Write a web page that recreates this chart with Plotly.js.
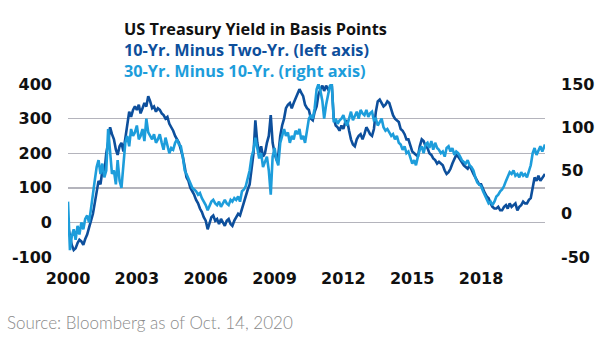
<!DOCTYPE html>
<html>
<head>
<meta charset="utf-8">
<script src="https://cdn.plot.ly/plotly-3.0.1.min.js"></script>
<style>html,body{margin:0;padding:0;background:#fff;}#chart{width:605px;height:341px;}</style>
</head>
<body>
<div id="chart"></div>
<script>
// Monthly dates, Jan 2000 - Oct 14 2020
var dates = [
"2000-01","2000-02","2000-03","2000-04","2000-05","2000-06","2000-07","2000-08","2000-09","2000-10","2000-11","2000-12",
"2001-01","2001-02","2001-03","2001-04","2001-05","2001-06","2001-07","2001-08","2001-09","2001-10","2001-11","2001-12",
"2002-01","2002-02","2002-03","2002-04","2002-05","2002-06","2002-07","2002-08","2002-09","2002-10","2002-11","2002-12",
"2003-01","2003-02","2003-03","2003-04","2003-05","2003-06","2003-07","2003-08","2003-09","2003-10","2003-11","2003-12",
"2004-01","2004-02","2004-03","2004-04","2004-05","2004-06","2004-07","2004-08","2004-09","2004-10","2004-11","2004-12",
"2005-01","2005-02","2005-03","2005-04","2005-05","2005-06","2005-07","2005-08","2005-09","2005-10","2005-11","2005-12",
"2006-01","2006-02","2006-03","2006-04","2006-05","2006-06","2006-07","2006-08","2006-09","2006-10","2006-11","2006-12",
"2007-01","2007-02","2007-03","2007-04","2007-05","2007-06","2007-07","2007-08","2007-09","2007-10","2007-11","2007-12",
"2008-01","2008-02","2008-03","2008-04","2008-05","2008-06","2008-07","2008-08","2008-09","2008-10","2008-11","2008-12",
"2009-01","2009-02","2009-03","2009-04","2009-05","2009-06","2009-07","2009-08","2009-09","2009-10","2009-11","2009-12",
"2010-01","2010-02","2010-03","2010-04","2010-05","2010-06","2010-07","2010-08","2010-09","2010-10","2010-11","2010-12",
"2011-01","2011-02","2011-03","2011-04","2011-05","2011-06","2011-07","2011-08","2011-09","2011-10","2011-11","2011-12",
"2012-01","2012-02","2012-03","2012-04","2012-05","2012-06","2012-07","2012-08","2012-09","2012-10","2012-11","2012-12",
"2013-01","2013-02","2013-03","2013-04","2013-05","2013-06","2013-07","2013-08","2013-09","2013-10","2013-11","2013-12",
"2014-01","2014-02","2014-03","2014-04","2014-05","2014-06","2014-07","2014-08","2014-09","2014-10","2014-11","2014-12",
"2015-01","2015-02","2015-03","2015-04","2015-05","2015-06","2015-07","2015-08","2015-09","2015-10","2015-11","2015-12",
"2016-01","2016-02","2016-03","2016-04","2016-05","2016-06","2016-07","2016-08","2016-09","2016-10","2016-11","2016-12",
"2017-01","2017-02","2017-03","2017-04","2017-05","2017-06","2017-07","2017-08","2017-09","2017-10","2017-11","2017-12",
"2018-01","2018-02","2018-03","2018-04","2018-05","2018-06","2018-07","2018-08","2018-09","2018-10","2018-11","2018-12",
"2019-01","2019-02","2019-03","2019-04","2019-05","2019-06","2019-07","2019-08","2019-09","2019-10","2019-11","2019-12",
"2020-01","2020-02","2020-03","2020-04","2020-05","2020-06","2020-07","2020-08","2020-09","2020-10-14"
];

// 10-Yr minus 2-Yr (left axis, bp)
var tenMinusTwo = [
-10,-45,-65,-80,-75,-60,-50,-55,-65,-48,-35,-15,
5,25,55,90,120,110,150,140,200,230,275,255,
240,210,195,220,230,205,245,290,320,305,325,335,
325,340,315,330,345,335,365,350,330,335,320,330,
325,315,310,300,305,285,275,265,250,240,230,210,
190,160,130,120,100,90,80,65,55,40,30,15,
5,-20,-5,15,20,5,10,-5,10,0,-10,5,
10,-5,-10,5,15,25,20,40,60,75,95,110,
150,200,295,230,200,220,190,200,230,250,310,230,
200,180,195,250,280,300,330,340,345,330,345,360,
370,385,375,365,340,330,325,300,295,320,335,370,
385,395,380,395,385,390,395,300,280,275,265,280,
270,290,295,265,240,225,220,240,250,255,240,255,
275,265,255,250,270,320,350,355,345,335,340,350,
345,325,310,300,295,290,270,265,255,240,240,225,
205,200,195,190,220,240,235,220,215,200,195,185,
180,170,175,170,165,150,140,145,155,170,185,195,
190,180,175,165,160,155,165,150,140,130,120,110,
110,95,85,75,70,55,45,40,40,45,35,35,
45,50,40,55,45,50,55,35,45,50,60,55,
55,65,70,100,130,120,135,120,130,140
];

// 30-Yr minus 10-Yr (right axis, bp)
var thirtyMinusTen = [
14,-42,-26,-18,-30,-14,-24,-10,-18,-6,-2,-10,
6,26,38,54,62,46,58,42,50,98,70,46,
50,34,62,38,30,54,82,90,78,98,90,94,
102,86,90,98,84,110,94,90,86,92,82,86,
92,82,74,88,78,70,76,74,82,86,80,78,
66,50,46,40,36,30,28,26,22,24,18,14,
10,4,8,14,16,12,10,14,8,12,16,12,
10,16,14,18,16,20,14,26,28,32,42,50,
66,74,88,76,64,70,54,60,66,50,22,66,
76,62,56,82,90,98,90,94,82,90,86,96,
92,98,86,90,82,98,110,114,110,122,144,150,
142,130,110,126,138,148,150,106,110,104,108,110,
114,106,102,110,118,108,114,118,110,120,116,114,
120,112,116,118,108,110,102,106,110,100,96,98,
94,90,92,86,90,82,80,74,78,70,72,64,
58,62,56,66,74,78,70,80,82,76,84,74,
82,76,74,70,72,66,76,78,72,76,68,72,
70,66,62,60,58,62,56,54,50,42,36,34,
32,26,22,18,12,14,10,14,20,22,26,28,
32,38,44,48,46,50,44,46,42,48,44,46,
42,50,56,70,76,68,74,78,72,80
];

var leftTicks = [-100, 0, 100, 200, 300, 400];
var leftTickText = ["-100", "0", "100", "200", "300", "400"];
var rightTicks = [-50, 0, 50, 100, 150];
var rightTickText = ["-50", "0", "50", "100", "150"];
var xTickYears = ["2000","2003","2006","2009","2012","2015","2018"];

var titleText = "US Treasury Yield in Basis Points";
var darkLabel = "10-Yr. Minus Two-Yr. (left axis)";
var lightLabel = "30-Yr. Minus 10-Yr. (right axis)";
var sourceText = "Source: Bloomberg as of Oct. 14, 2020";

var darkBlue = "#0d4f9c";
var lightBlue = "#1d9ddb";
var tickFont = {family: "DejaVu Sans", size: 16, color: "#111", weight: "bold"};

var traces = [
  {x: dates, y: tenMinusTwo, type: "scatter", mode: "lines", name: darkLabel,
   line: {color: darkBlue, width: 2.6}, yaxis: "y"},
  {x: dates, y: thirtyMinusTen, type: "scatter", mode: "lines", name: lightLabel,
   line: {color: lightBlue, width: 2.6}, yaxis: "y2"}
];

var layout = {
  width: 605, height: 341,
  margin: {l: 68, r: 60, t: 84, b: 84},
  paper_bgcolor: "#fff", plot_bgcolor: "#fff",
  showlegend: false,
  xaxis: {
    type: "date",
    range: ["2000-01-01", "2020-10-14"],
    tickvals: xTickYears.map(function(y){return y + "-01-01";}),
    ticktext: xTickYears,
    showgrid: false, zeroline: false, showline: false,
    ticks: "", ticklabelstandoff: 10,
    tickfont: tickFont
  },
  yaxis: {
    range: [-100, 400],
    tickvals: leftTicks, ticktext: leftTickText,
    showgrid: true, gridcolor: "#b4b4bc", gridwidth: 1.4,
    zeroline: false, showline: false, ticks: "",
    ticklabelstandoff: 15,
    tickfont: tickFont
  },
  yaxis2: {
    range: [-50, 150],
    tickvals: rightTicks, ticktext: rightTickText,
    overlaying: "y", side: "right",
    showgrid: false, zeroline: false, showline: false, ticks: "",
    ticklabelstandoff: 15,
    tickfont: tickFont
  },
  annotations: [
    {text: titleText + "<br><span style='color:" + darkBlue + "'>" + darkLabel + "</span><br>" +
           "<span style='color:" + lightBlue + "'>" + lightLabel + "</span>",
     xref: "paper", yref: "paper", x: 0.113, y: 1.199,
     xanchor: "left", yanchor: "middle", align: "left", showarrow: false,
     font: {family: "Open Sans", size: 16.3, color: "#111", weight: "bold"}},
    {text: sourceText, xref: "paper", yref: "paper", x: -0.132, y: -0.376,
     xanchor: "left", yanchor: "middle", showarrow: false,
     font: {family: "Lato", size: 17, color: "#8a8a8a", weight: 300}}
  ]
};

Plotly.newPlot("chart", traces, layout, {displayModeBar: false, staticPlot: true});
</script>
</body>
</html>
